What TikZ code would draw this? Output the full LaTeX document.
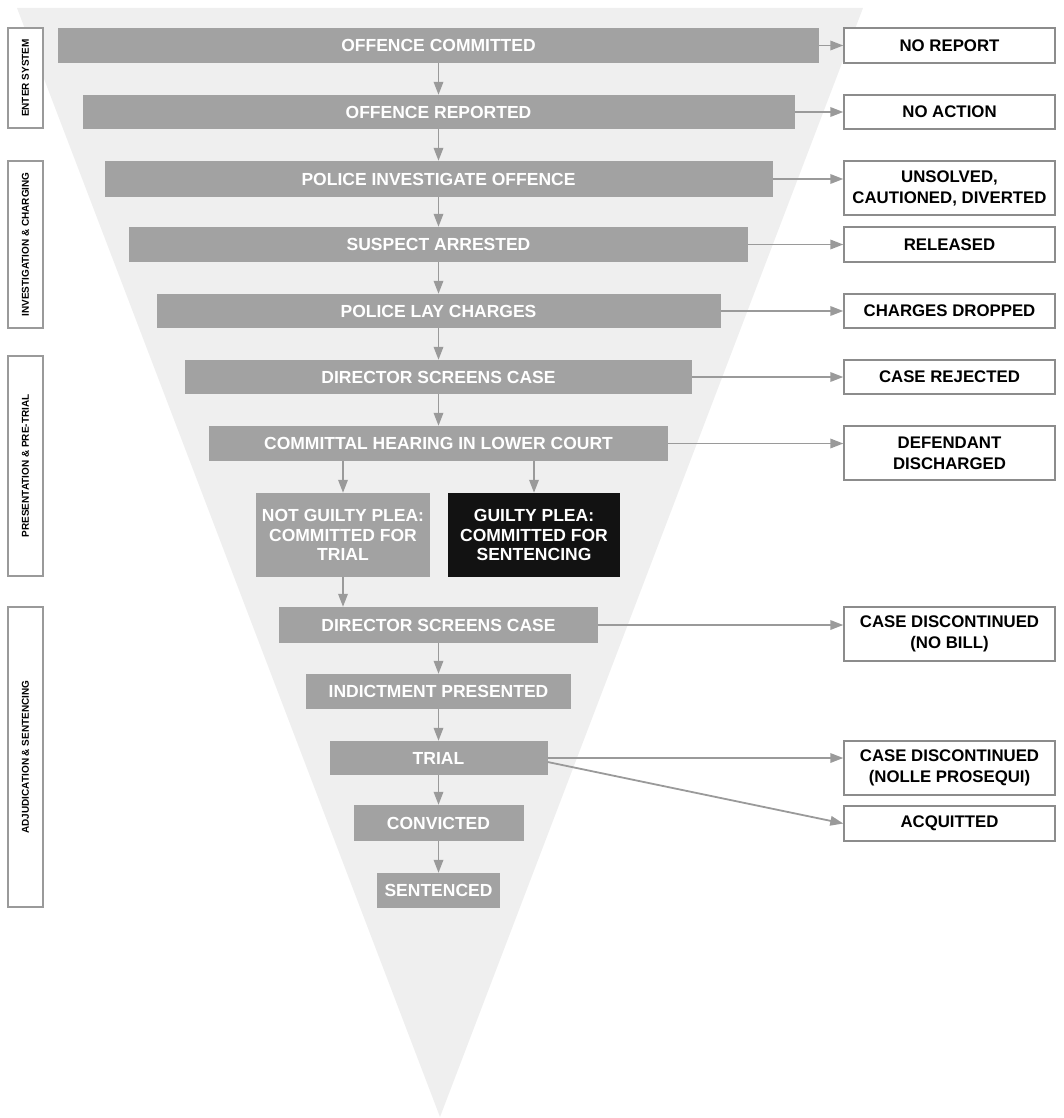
\documentclass[tikz,border=0pt]{standalone}
\usepackage{fontspec}
\setmainfont{Liberation Sans}
\usetikzlibrary{arrows.meta}
\definecolor{trifill}{HTML}{EFEFEF}
\definecolor{boxgray}{HTML}{A2A2A2}
\definecolor{arrgray}{HTML}{9A9A9A}
\definecolor{edgegray}{HTML}{8C8C8C}
\definecolor{darkbox}{HTML}{121212}
\begin{document}
\begin{tikzpicture}[x=1pt,y=-1pt,
  gbox/.style={fill=boxgray, text=white, font=\bfseries\fontsize{17.5}{19.5}\selectfont, inner sep=0pt, align=center},
  bbox/.style={gbox, fill=darkbox},
  rbox/.style={draw=edgegray, line width=1.4pt, fill=white, text=black, font=\bfseries\fontsize{16.8}{21}\selectfont, inner sep=0pt, align=center, minimum width=211pt},
  lbox/.style={draw=arrgray, line width=1.6pt, fill=white, text=black, font=\bfseries\fontsize{10}{11}\selectfont, inner sep=0pt, rotate=90, minimum height=35pt},
  arr/.style={draw=arrgray, line width=1.8pt, -{Triangle[length=13pt,width=9.5pt]}}
]
\useasboundingbox (0,0) rectangle (1064,1118);
\fill[trifill] (17,8) -- (863,8) -- (440,1117) -- cycle;

% main column
\node[gbox, minimum width=761pt, minimum height=35pt] (n1) at (438.5,45.5) {OFFENCE COMMITTED};
\node[gbox, minimum width=712pt, minimum height=34pt] (n2) at (438.5,112) {OFFENCE REPORTED};
\node[gbox, minimum width=668pt, minimum height=36pt] (n3) at (438.5,179) {POLICE INVESTIGATE OFFENCE};
\node[gbox, minimum width=619pt, minimum height=35pt] (n4) at (438.5,244.5) {SUSPECT ARRESTED};
\node[gbox, minimum width=564pt, minimum height=34pt] (n5) at (438.5,311) {POLICE LAY CHARGES};
\node[gbox, minimum width=507pt, minimum height=34pt] (n6) at (438.5,377) {DIRECTOR SCREENS CASE};
\node[gbox, minimum width=459pt, minimum height=35pt] (n7) at (438.5,443.5) {COMMITTAL HEARING IN LOWER COURT};
\node[gbox, minimum width=174pt, minimum height=84pt] (n8a) at (343,535) {NOT GUILTY PLEA:\\COMMITTED FOR\\TRIAL};
\node[bbox, minimum width=172pt, minimum height=84pt] (n8b) at (534,535) {GUILTY PLEA:\\COMMITTED FOR\\SENTENCING};
\node[gbox, minimum width=319pt, minimum height=36pt] (n9) at (438.5,625) {DIRECTOR SCREENS CASE};
\node[gbox, minimum width=265pt, minimum height=35pt] (n10) at (438.5,691.5) {INDICTMENT PRESENTED};
\node[gbox, minimum width=218pt, minimum height=34pt] (n11) at (438.5,758) {TRIAL};
\node[gbox, minimum width=170pt, minimum height=36pt] (n12) at (438.5,823) {CONVICTED};
\node[gbox, minimum width=123pt, minimum height=35pt] (n13) at (438.5,890.5) {SENTENCED};

% right column
\node[rbox, minimum height=35pt] (r1) at (949.5,45.5) {NO REPORT};
\node[rbox, minimum height=34pt] (r2) at (949.5,112) {NO ACTION};
\node[rbox, minimum height=54pt] (r3) at (949.5,188) {UNSOLVED,\\CAUTIONED, DIVERTED};
\node[rbox, minimum height=35pt] (r4) at (949.5,244.5) {RELEASED};
\node[rbox, minimum height=34pt] (r5) at (949.5,311) {CHARGES DROPPED};
\node[rbox, minimum height=34pt] (r6) at (949.5,377) {CASE REJECTED};
\node[rbox, minimum height=54pt] (r7) at (949.5,453) {DEFENDANT\\DISCHARGED};
\node[rbox, minimum height=54pt] (r8) at (949.5,634) {CASE DISCONTINUED\\(NO BILL)};
\node[rbox, minimum height=54pt] (r9) at (949.5,768) {CASE DISCONTINUED\\(NOLLE PROSEQUI)};
\node[rbox, minimum height=35pt] (r10) at (949.5,823.5) {ACQUITTED};

% left stage labels
\node[lbox, minimum width=100pt] (l1) at (25.5,78) {ENTER SYSTEM};
\node[lbox, minimum width=167pt] (l2) at (25.5,244.5) {INVESTIGATION \& CHARGING};
\node[lbox, minimum width=220pt] (l3) at (25.5,466) {PRESENTATION \& PRE-TRIAL};
\node[lbox, minimum width=300pt] (l4) at (25.5,757) {ADJUDICATION \& SENTENCING};

% vertical flow
\draw[arr] (n1.south) -- (n2.north);
\draw[arr] (n2.south) -- (n3.north);
\draw[arr] (n3.south) -- (n4.north);
\draw[arr] (n4.south) -- (n5.north);
\draw[arr] (n5.south) -- (n6.north);
\draw[arr] (n6.south) -- (n7.north);
\draw[arr] (n7.south -| n8a.north) -- (n8a.north);
\draw[arr] (n7.south -| n8b.north) -- (n8b.north);
\draw[arr] (n8a.south) -- (n8a.south |- n9.north);
\draw[arr] (n9.south) -- (n10.north);
\draw[arr] (n10.south) -- (n11.north);
\draw[arr] (n11.south) -- (n12.north);
\draw[arr] (n12.south) -- (n13.north);

% exits
\draw[arr] (n1.east) -- (n1.east -| r1.west);
\draw[arr] (n2.east) -- (n2.east -| r2.west);
\draw[arr] (n3.east) -- (n3.east -| r3.west);
\draw[arr] (n4.east) -- (n4.east -| r4.west);
\draw[arr] (n5.east) -- (n5.east -| r5.west);
\draw[arr] (n6.east) -- (n6.east -| r6.west);
\draw[arr] (n7.east) -- (n7.east -| r7.west);
\draw[arr] (n9.east) -- (n9.east -| r8.west);
\draw[arr] (n11.east) -- (n11.east -| r9.west);
\draw[arr] ([yshift=-4pt]n11.east) -- (r10.west);
\end{tikzpicture}
\end{document}
